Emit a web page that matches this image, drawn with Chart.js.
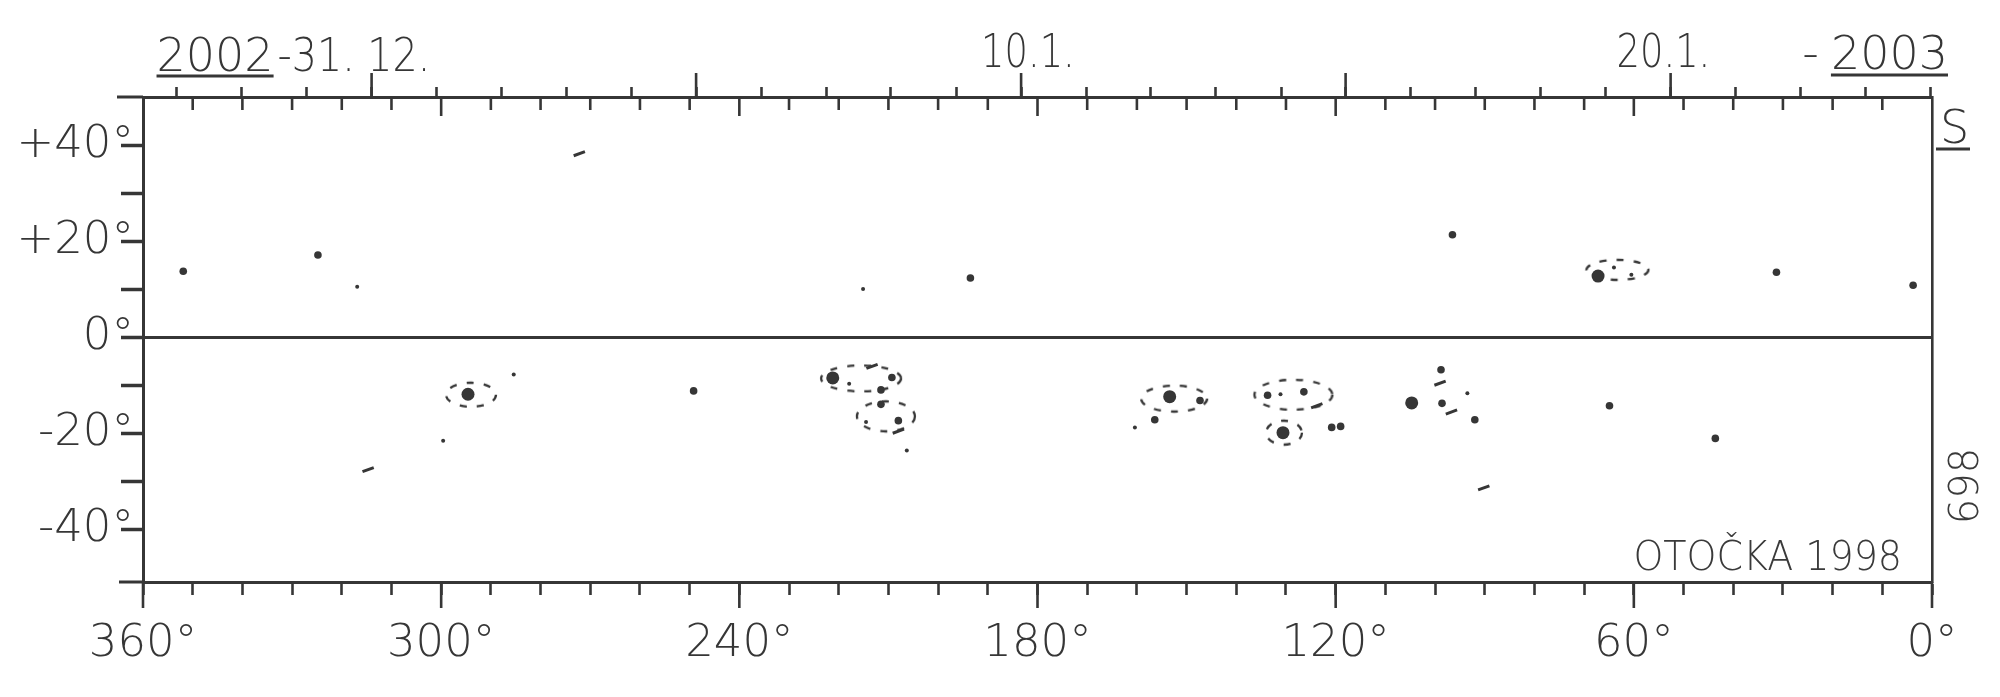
<!DOCTYPE html>
<html>
<head>
<meta charset="utf-8">
<script src="https://cdn.jsdelivr.net/npm/chart.js@4.4.1/dist/chart.umd.min.js"></script>
<style>
  html, body { margin: 0; padding: 0; background: #fff; }
  #wrap { width: 2000px; height: 697px; }
</style>
</head>
<body>
<div id="wrap"><canvas id="map"></canvas></div>
<script>
// Carrington longitude / latitude (degrees) of the drawn spots
const bigLon = [294.6, 221.2, 153.4, 130.6, 104.7, 67.2];
const bigLat = [-11.9, -8.5, -12.4, -19.9, -13.7, 12.7];

const midLon = [209.3, 211.5, 208.0, 133.7, 126.4, 147.3, 156.4, 98.6, 92.0, 98.8,
                193.5, 351.9, 324.8, 96.5, 31.3, 3.8, 249.2, 64.9, 43.6, 120.8, 119.0, 211.5];
const midLat = [-8.4, -14.0, -17.4, -12.1, -11.4, -13.2, -17.2, -13.8, -17.2, -6.8,
                12.3, 13.7, 17.1, 21.3, 13.5, 10.8, -11.2, -14.3, -21.1, -18.8, -18.6, -11.0];

const smallLon = [316.9, 215.1, 285.4, 299.6, 214.5, 206.3, 217.9, 131.1, 93.5, 160.4, 64.0, 60.5];
const smallLat = [10.5, 10.0, -7.8, -21.6, -17.7, -23.6, -9.7, -11.9, -11.7, -18.8, 14.5, 13.0];

const dashLon = [272.2, 314.7, 213.3, 123.8, 99.0, 96.7, 90.2, 208.0];
const dashLat = [38.2, -27.6, -6.1, -14.3, -9.6, -15.6, -31.4, -19.6];

// penumbra outlines (dashed) around the groups
const ringLon = [294.0, 215.5, 210.5, 152.5, 128.5, 130.4, 63.3];
const ringLat = [-12.0, -8.6, -16.5, -12.8, -12.0, -19.9, 14.0];

// axes
const latTicks = [-40, -30, -20, -10, 0, 10, 20, 30, 40];
const latLabelValues = [40, 20, 0, -20, -40];
const latLabelText = ['+40°', '+20°', '0°', '-20°', '-40°'];
const lonTicks = [0, 10, 20, 30, 40, 50, 60, 70, 80, 90, 100, 110, 120, 130, 140, 150, 160, 170, 180,
                  190, 200, 210, 220, 230, 240, 250, 260, 270, 280, 290, 300, 310, 320, 330, 340, 350, 360];
const lonLabelValues = [360, 300, 240, 180, 120, 60, 0];
const lonLabelText = ['360°', '300°', '240°', '180°', '120°', '60°', '0°'];

// central meridian passage of each day (top scale), 28.12.2002 ... 24.1.2003
const dayLon = [353.2, 340.1, 327.1, 314.0, 300.9, 287.9, 274.8, 261.7, 248.7, 235.6, 222.5, 209.5,
                196.4, 183.3, 170.2, 157.2, 144.1, 131.0, 118.0, 104.9, 91.8, 78.8, 65.7, 52.6,
                39.5, 26.5, 13.4, 0.3];
const dayMarkLon = [314.0, 248.7, 183.3, 118.0, 52.6];   // every fifth day
const dateLabelLon = [314.0, 183.3, 52.6];
const dateLabelText = ['31. 12.', '10.1.', '20.1.'];

const INK = '#363636';
const FONT = '"DejaVu Sans", sans-serif';

// sizes of the penumbra outlines, px
const ringW = [50, 80, 58, 66, 78, 36, 62];
const ringH = [24, 26, 30, 26, 30, 24, 20];

function pts(lons, lats) {
    return lons.map((v, i) => ({ x: v, y: lats[i] }));
}

function ringImage(w, h) {
    const c = document.createElement('canvas');
    c.width = w + 6;
    c.height = h + 6;
    const g = c.getContext('2d');
    g.strokeStyle = INK;
    g.lineWidth = 2.3;
    g.setLineDash([7, 10]);
    g.beginPath();
    g.ellipse(c.width / 2, c.height / 2, w / 2, h / 2, 0, 0, Math.PI * 2);
    g.stroke();
    return c;
}

function line(ctx, x1, y1, x2, y2, w) {
    ctx.lineWidth = w;
    ctx.beginPath();
    ctx.moveTo(x1, y1);
    ctx.lineTo(x2, y2);
    ctx.stroke();
}

// narrow stencil-like lettering
function narrowText(ctx, txt, x, y, align, sx) {
    ctx.save();
    ctx.translate(x, y);
    ctx.scale(sx, 1);
    ctx.textAlign = align;
    ctx.fillText(txt, 0, 0);
    ctx.restore();
}

// hand lettering, ticks and notes that the axes do not draw themselves
const inkPlugin = {
    id: 'ink',
    afterDraw(chart) {
        const { ctx, chartArea: a, scales } = chart;
        const xs = scales.x;
        ctx.save();
        ctx.strokeStyle = INK;
        ctx.fillStyle = INK;

        // frame overhangs at the left corners
        line(ctx, a.left - 26, a.top, a.left, a.top, 3);
        line(ctx, a.left - 24, a.bottom, a.left, a.bottom, 3);

        // longitude ticks hanging below the top border
        lonTicks.forEach(v => {
            if (v === 0 || v === 360) return;
            const x = xs.getPixelForValue(v);
            line(ctx, x, a.top, x, a.top + (v % 60 === 0 ? 19 : 13), 2.6);
        });
        // long ticks under the labelled longitudes
        lonLabelValues.forEach(v => {
            const x = xs.getPixelForValue(v);
            line(ctx, x, a.bottom, x, a.bottom + 26, 2.6);
        });
        // every fifth day longer
        dayMarkLon.forEach(v => {
            const x = xs.getPixelForValue(v);
            line(ctx, x, a.top, x, a.top - 24, 2.6);
        });

        ctx.font = '200 46px ' + FONT;
        ctx.textBaseline = 'alphabetic';
        const base = a.top - 26;

        // 2002-31. 12.
        const x31 = xs.getPixelForValue(dateLabelLon[0]);
        ctx.textAlign = 'right';
        ctx.fillText('2002', x31 - 98, base);
        const w02 = ctx.measureText('2002').width;
        line(ctx, x31 - 98 - w02, base + 5, x31 - 98, base + 5, 3);
        narrowText(ctx, '-' + dateLabelText[0], x31 - 94, base, 'left', 0.86);

        const x10 = xs.getPixelForValue(dateLabelLon[1]);
        narrowText(ctx, dateLabelText[1], x10 - 40, base - 4, 'left', 0.8);
        const x20 = xs.getPixelForValue(dateLabelLon[2]);
        narrowText(ctx, dateLabelText[2], x20 - 54, base - 4, 'left', 0.8);

        // - 2003
        ctx.textAlign = 'right';
        ctx.fillText('2003', a.right + 16, base - 2);
        const w03 = ctx.measureText('2003').width;
        line(ctx, a.right + 16 - w03, base + 4, a.right + 16, base + 4, 3);
        ctx.fillText('-', a.right + 16 - w03 - 12, base - 2);

        // S, page number, author
        ctx.textAlign = 'left';
        ctx.fillText('S', a.right + 8, a.top + 46);
        line(ctx, a.right + 4, a.top + 52, a.right + 38, a.top + 52, 3);

        ctx.font = '200 40px ' + FONT;
        ctx.fillStyle = '#3a3a3a';
        narrowText(ctx, 'OTOČKA 1998', a.right - 30, a.bottom - 12, 'right', 0.95);

        ctx.save();
        ctx.translate(a.right + 46, chart.scales.y.getPixelForValue(-31));
        ctx.rotate(-Math.PI / 2);
        ctx.textAlign = 'center';
        ctx.fillText('698', 0, 0);
        ctx.restore();

        ctx.restore();
    }
};

const ringImgs = ringW.map((w, i) => ringImage(w, ringH[i]));

const tickFont = { family: FONT, size: 45, weight: '200' };

new Chart(document.getElementById('map'), {
    type: 'scatter',
    data: {
        datasets: [
            { data: pts(bigLon, bigLat), pointRadius: 6.5, backgroundColor: INK, borderWidth: 0 },
            { data: pts(midLon, midLat), pointRadius: 3.8, backgroundColor: INK, borderWidth: 0 },
            { data: pts(smallLon, smallLat), pointRadius: 2, backgroundColor: INK, borderWidth: 0 },
            { data: pts(dashLon, dashLat), pointStyle: 'line', pointRadius: 6, rotation: -20,
              borderColor: INK, borderWidth: 3 },
            { data: pts(ringLon, ringLat), pointStyle: ringImgs, pointRadius: 5 }
        ]
    },
    options: {
        responsive: true,
        maintainAspectRatio: false,
        animation: false,
        events: [],
        layout: { padding: 0 },
        plugins: { legend: { display: false }, tooltip: { enabled: false } },
        scales: {
            x: {
                type: 'linear', position: 'bottom', min: 0, max: 360, reverse: true,
                afterBuildTicks: s => { s.ticks = lonTicks.map(v => ({ value: v })); },
                afterFit: s => { s.height = 115; },
                border: { display: true, color: INK, width: 3 },
                grid: { drawOnChartArea: false, tickLength: 13, tickWidth: 2.6, tickColor: INK },
                ticks: {
                    autoSkip: false, maxRotation: 0, padding: 22, color: INK, font: tickFont,
                    callback: v => {
                        const i = lonLabelValues.indexOf(v);
                        return i < 0 ? '' : lonLabelText[i];
                    }
                }
            },
            x2: {
                type: 'linear', position: 'top', min: 0, max: 360, reverse: true,
                afterBuildTicks: s => { s.ticks = dayLon.map(v => ({ value: v })); },
                afterFit: s => { s.height = 97; },
                border: { display: true, color: INK, width: 3 },
                grid: { drawOnChartArea: false, tickLength: 10, tickWidth: 2.6, tickColor: INK },
                ticks: { display: false }
            },
            y: {
                type: 'linear', position: 'left', min: -51, max: 50,
                afterBuildTicks: s => { s.ticks = latTicks.map(v => ({ value: v })); },
                afterFit: s => { s.width = 143; },
                border: { display: true, color: INK, width: 3 },
                grid: {
                    drawOnChartArea: true,
                    color: c => (c.tick && c.tick.value === 0 ? INK : 'rgba(0,0,0,0)'),
                    lineWidth: 3,
                    tickLength: 22, tickWidth: 3.5, tickColor: INK
                },
                ticks: {
                    padding: -13, color: INK, font: tickFont,
                    callback: v => {
                        const i = latLabelValues.indexOf(v);
                        return i < 0 ? '' : latLabelText[i];
                    }
                }
            },
            y2: {
                type: 'linear', position: 'right', min: -51, max: 50,
                afterFit: s => { s.width = 68; },
                border: { display: true, color: INK, width: 2.6 },
                grid: { drawOnChartArea: false, drawTicks: false },
                ticks: { display: false }
            }
        }
    },
    plugins: [inkPlugin]
});
</script>
</body>
</html>
